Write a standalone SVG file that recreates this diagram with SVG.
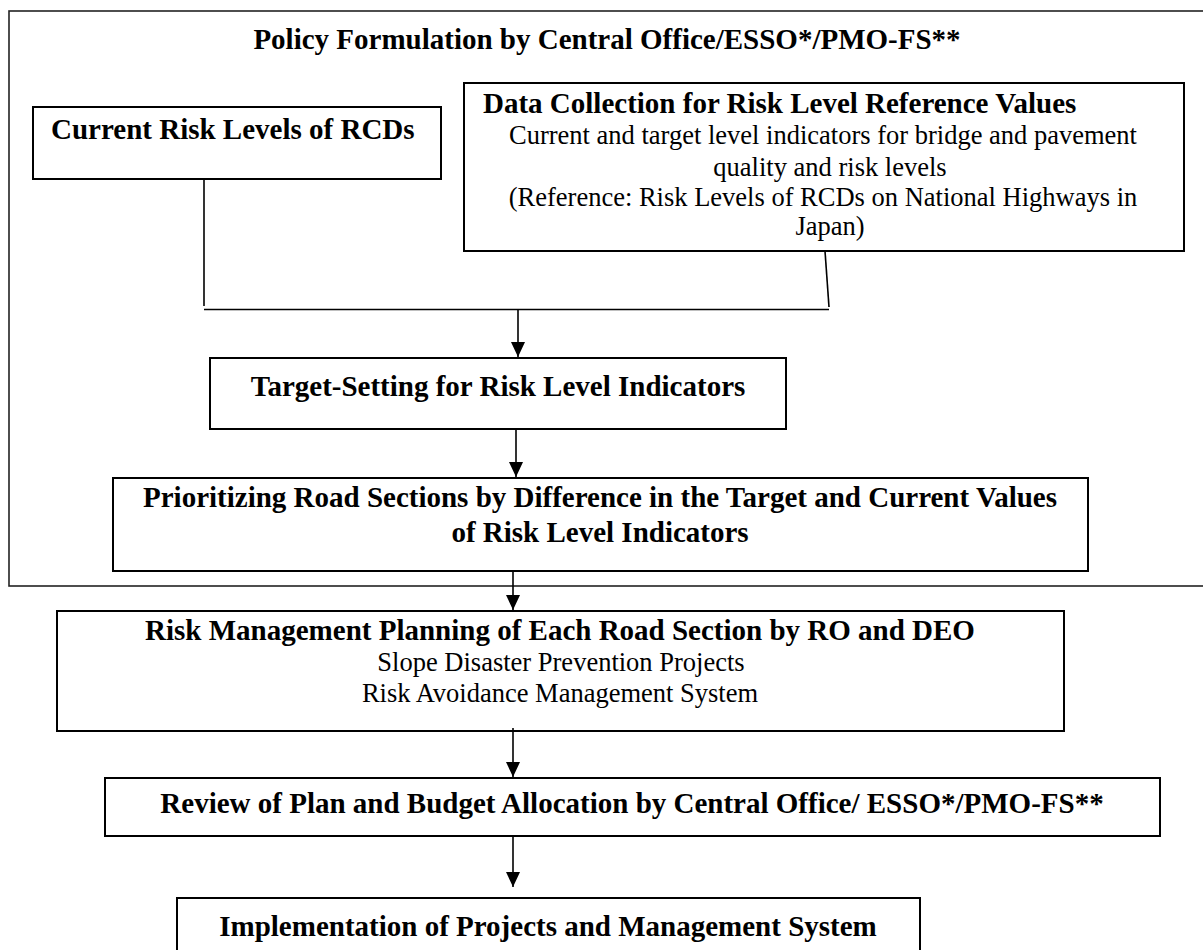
<svg xmlns="http://www.w3.org/2000/svg" width="1203" height="950" viewBox="0 0 1203 950">
  <defs>
    <style>
      .box { fill: #ffffff; stroke: #000000; stroke-width: 2; }
      .frame { fill: none; stroke: #222222; stroke-width: 1.6; }
      .line { fill: none; stroke: #000000; stroke-width: 1.6; }
      .arrow { fill: none; stroke: #000000; stroke-width: 1.6; marker-end: url(#head); }
      .b { font-family: "Liberation Serif", "Times New Roman", serif; font-weight: bold; font-size: 29px; fill: #000000; }
      .r { font-family: "Liberation Serif", "Times New Roman", serif; font-size: 26.5px; fill: #000000; }
      .m { text-anchor: middle; }
    </style>
    <marker id="head" markerUnits="userSpaceOnUse" viewBox="0 0 15 14" markerWidth="15" markerHeight="14" refX="15" refY="7" orient="auto">
      <path d="M0,0 L15,7 L0,14 Z" fill="#000000"/>
    </marker>
  </defs>

  <rect width="1203" height="950" fill="#ffffff"/>

  <!-- policy formulation frame (open on the right edge) -->
  <g id="policy-frame">
    <rect class="frame" x="9" y="11" width="1200" height="575"/>
    <text class="b m" x="607" y="49">Policy Formulation by Central Office/ESSO*/PMO-FS**</text>
  </g>

  <g id="current-risk">
    <rect class="box" x="33" y="107" width="408" height="72"/>
    <text class="b" x="51" y="139">Current Risk Levels of RCDs</text>
  </g>

  <g id="data-collection">
    <rect class="box" x="464" y="83" width="720" height="168"/>
    <text class="b" x="483" y="113">Data Collection for Risk Level Reference Values</text>
    <text class="r m" x="823" y="144">Current and target level indicators for bridge and pavement</text>
    <text class="r m" x="830" y="176">quality and risk levels</text>
    <text class="r m" x="823" y="206">(Reference: Risk Levels of RCDs on National Highways in</text>
    <text class="r m" x="830" y="235">Japan)</text>
  </g>

  <g id="target-setting">
    <rect class="box" x="210" y="358" width="576" height="71"/>
    <text class="b m" x="498" y="396">Target-Setting for Risk Level Indicators</text>
  </g>

  <g id="prioritizing">
    <rect class="box" x="113" y="478" width="975" height="93"/>
    <text class="b m" x="600" y="507">Prioritizing Road Sections by Difference in the Target and Current Values</text>
    <text class="b m" x="600" y="542">of Risk Level Indicators</text>
  </g>

  <g id="risk-planning">
    <rect class="box" x="57" y="611" width="1007" height="120"/>
    <text class="b m" x="560" y="640">Risk Management Planning of Each Road Section by RO and DEO</text>
    <text class="r m" x="561" y="671">Slope Disaster Prevention Projects</text>
    <text class="r m" x="560" y="702">Risk Avoidance Management System</text>
  </g>

  <g id="review">
    <rect class="box" x="105" y="778" width="1055" height="58"/>
    <text class="b m" x="632" y="813">Review of Plan and Budget Allocation by Central Office/ ESSO*/PMO-FS**</text>
  </g>

  <g id="implementation">
    <rect class="box" x="177" y="898" width="743" height="70"/>
    <text class="b m" x="548" y="936">Implementation of Projects and Management System</text>
  </g>

  <g id="connectors">
    <line class="line" x1="204" y1="179" x2="204" y2="306"/>
    <line class="line" x1="825" y1="251" x2="829" y2="307"/>
    <line class="line" x1="204" y1="309.5" x2="829" y2="309.5"/>
    <line class="arrow" x1="518" y1="309" x2="518" y2="357"/>
    <line class="arrow" x1="516" y1="429" x2="516" y2="477"/>
    <line class="arrow" x1="513" y1="571" x2="513" y2="610"/>
    <line class="arrow" x1="513" y1="728" x2="513" y2="777"/>
    <line class="arrow" x1="513" y1="837" x2="513" y2="887"/>
  </g>
</svg>
